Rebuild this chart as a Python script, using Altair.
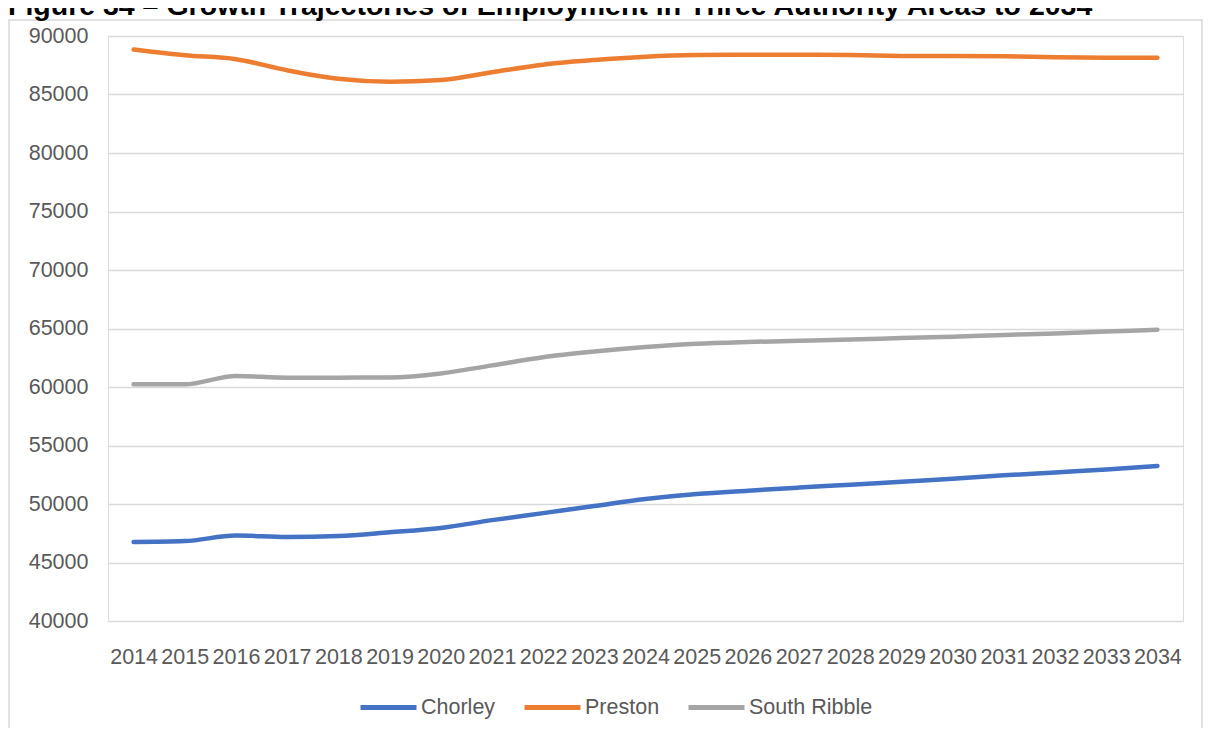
import altair as alt
import pandas as pd

years = [str(y) for y in range(2014, 2035)]
chorley = [46750, 46830, 47300, 47180, 47260, 47580, 47950, 48620, 49220, 49830, 50420,
           50850, 51140, 51400, 51650, 51900, 52150, 52450, 52700, 52950, 53250]
preston = [88850, 88360, 88020, 87070, 86350, 86100, 86230, 86900, 87550, 87950, 88230,
           88370, 88400, 88400, 88380, 88300, 88280, 88260, 88180, 88150, 88150]
south_ribble = [60230, 60230, 60950, 60800, 60800, 60820, 61160, 61850, 62550, 63030, 63410,
                63700, 63850, 63950, 64060, 64180, 64300, 64450, 64580, 64740, 64900]
series_names = ["Chorley", "Preston", "South Ribble"]
series_colors = ["#4472C4", "#ED7D31", "#A5A5A5"]
y_ticks = list(range(40000, 90001, 5000))
title_text = "Figure 34 \u2013 Growth Trajectories of Employment in Three Authority Areas to 2034"

rows = []
for name, vals in zip(series_names, [chorley, preston, south_ribble]):
    for yr, v in zip(years, vals):
        rows.append({"Year": yr, "Series": name, "Value": v})
df = pd.DataFrame(rows)

FONT = "Liberation Sans"
GREY = "#595959"

lines = alt.Chart(df).mark_line(strokeWidth=4.5, interpolate="monotone", strokeCap="round").encode(
    x=alt.X("Year:N", sort=years,
            scale=alt.Scale(type="point", padding=0.5),
            axis=alt.Axis(title=None, labelAngle=0, labelOverlap=False, ticks=False, domain=False,
                          grid=False, labelPadding=25, labelFontSize=21.5, labelFont=FONT,
                          labelColor=GREY)),
    y=alt.Y("Value:Q", scale=alt.Scale(domain=[40000, 90000], nice=False, zero=False),
            axis=alt.Axis(title=None, values=y_ticks, format="d", ticks=False, domain=False,
                          grid=True, gridColor="#d9d9d9", gridWidth=1.5, labelPadding=20,
                          labelFontSize=21.5, labelFont=FONT, labelColor=GREY)),
    color=alt.Color("Series:N", sort=series_names,
                    scale=alt.Scale(domain=series_names, range=series_colors),
                    legend=alt.Legend(title=None, orient="none", legendX=250, legendY=641,
                                      direction="horizontal", symbolType="stroke",
                                      symbolSize=3136, symbolStrokeWidth=5,
                                      labelFontSize=21.5, labelFont=FONT, labelColor=GREY,
                                      columnPadding=18, labelOffset=2)),
)

frame = alt.Chart(pd.DataFrame({"f": [1]})).mark_rect(fill=None, stroke="#d9d9d9", strokeWidth=1.5).encode(
    x=alt.value(-99), x2=alt.value(1094), y=alt.value(-16), y2=alt.value(720)
)

title = alt.Chart(pd.DataFrame({"t": [title_text]})).mark_text(
    align="left", baseline="alphabetic", font=FONT, fontWeight="bold", fontSize=28.5, color="#000000"
).encode(text="t:N", x=alt.value(-100), y=alt.value(-21))

chart = alt.layer(frame, lines, title).properties(
    width=1075, height=585,
    autosize=alt.AutoSizeParams(type="none"),
    padding={"left": 100, "top": 28, "right": 20, "bottom": 107},
).configure_view(stroke=None).configure(background="white")

chart.save("out.html", embed_options={"renderer": "svg", "actions": False})
